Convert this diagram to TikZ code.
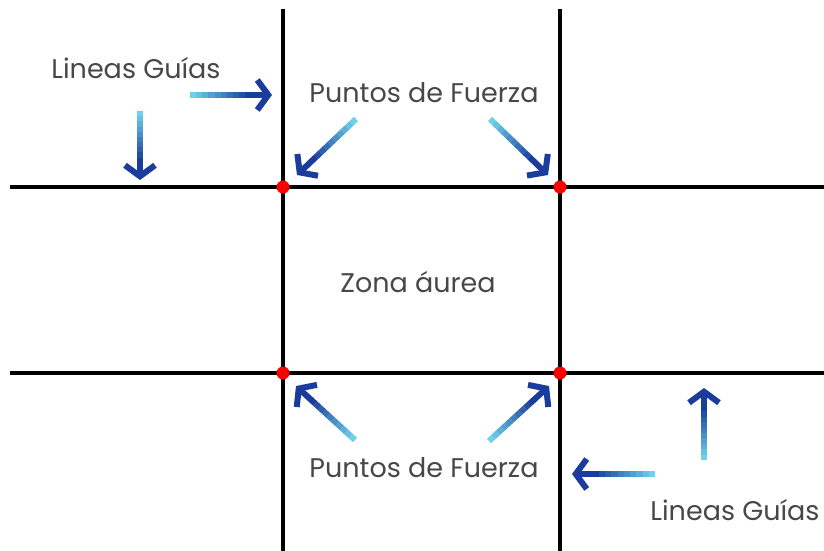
\documentclass[tikz,border=0pt]{standalone}
\usepackage{fontspec}
\setmainfont{Poppins}
\usepackage{tikz}
\usetikzlibrary{arrows.meta}
\usetikzlibrary{calc}
\definecolor{arrowdark}{HTML}{1A3C9C}
\definecolor{arrowlight}{HTML}{6ED2E8}
\definecolor{labelgray}{HTML}{474747}
\tikzstyle{dot}=[circle, inner sep=0pt, minimum size=13pt, fill=red]
\tikzstyle{rule}=[line width=3.4pt, black]
\tikzstyle{lbl}=[text=labelgray, font=\fontsize{27}{31}\selectfont]
\tikzstyle{tip}=[line width=6pt, arrowdark, -{Straight Barb[length=11pt, width=30pt]}]

\newcommand{\guide}[2]{
    \foreach \k in {0,...,9}{
        \pgfmathsetmacro{\sa}{\k*0.075}
        \pgfmathsetmacro{\sb}{(\k+1)*0.075}
        \pgfmathtruncatemacro{\p}{\k*100/9}
        \draw[line width=6pt, arrowdark!\p!arrowlight] ($(#1)!\sa!(#2)$) -- ($(#1)!\sb!(#2)$);
        }
    \draw[tip] ($(#1)!0.74!(#2)$) -- (#2);
}

\begin{document}
\begin{tikzpicture}[x=1pt, y=-1pt]
    \useasboundingbox (0,0) rectangle (824,551);

    \coordinate (v1t) at (283,9);   \coordinate (v1b) at (283,551);
    \coordinate (v2t) at (560,9);   \coordinate (v2b) at (560,551);
    \coordinate (h1l) at (10,187);  \coordinate (h1r) at (824,187);
    \coordinate (h2l) at (10,373);  \coordinate (h2r) at (824,373);
    \draw[rule] (v1t) -- (v1b);
    \draw[rule] (v2t) -- (v2b);
    \draw[rule] (h1l) -- (h1r);
    \draw[rule] (h2l) -- (h2r);

    \node[dot] (tl) at (283,187) {};
    \node[dot] (tr) at (560,187) {};
    \node[dot] (bl) at (283,373) {};
    \node[dot] (br) at (560,373) {};

    \node[lbl] (guias1) at (136,68) {Lineas Guías};
    \node[lbl] (fuerza1) at (424,93) {Puntos de Fuerza};
    \node[lbl] (zona) at (418,282) {Zona áurea};
    \node[lbl] (fuerza2) at (424,468) {Puntos de Fuerza};
    \node[lbl] (guias2) at (735,510) {Lineas Guías};

    \coordinate (a1) at (190,95);  \coordinate (a1h) at (272,95);
    \coordinate (a2) at (140,111); \coordinate (a2h) at (140,180);
    \coordinate (a3) at (356,119); \coordinate (a3h) at (297,175);
    \coordinate (a4) at (490,119); \coordinate (a4h) at (548,175);
    \coordinate (a5) at (355,440); \coordinate (a5h) at (296,386);
    \coordinate (a6) at (489,441); \coordinate (a6h) at (549,386);
    \coordinate (a7) at (655,474); \coordinate (a7h) at (572,474);
    \coordinate (a8) at (704,460); \coordinate (a8h) at (704,388);

    \foreach \s/\e in {a1/a1h,a2/a2h,a3/a3h,a4/a4h,a5/a5h,a6/a6h,a7/a7h,a8/a8h}{
        \guide{\s}{\e}
        }

\end{tikzpicture}
\end{document}
